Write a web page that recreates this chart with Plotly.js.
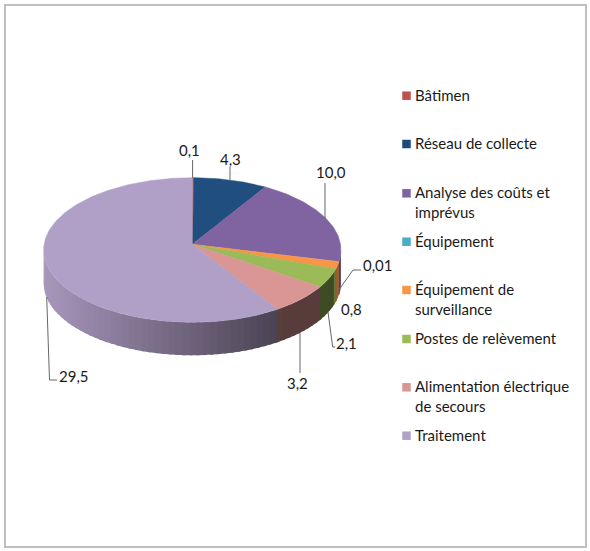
<!DOCTYPE html>
<html>
<head>
<meta charset="utf-8">
<script src="https://cdn.plot.ly/plotly-3.0.1.min.js"></script>
<style>html,body{margin:0;padding:0;background:#fff}</style>
</head>
<body>
<div id="chart" style="width:590px;height:551px"></div>
<script>
const categories = ["Bâtimen","Réseau de collecte","Analyse des coûts et<br>imprévus","Équipement","Équipement de<br>surveillance","Postes de relèvement","Alimentation électrique<br>de secours","Traitement"];
const values = [0.1,4.3,10.0,0.01,0.8,2.1,3.2,29.5];
const dataLabels = ["0,1","4,3","10,0","0,01","0,8","2,1","3,2","29,5"];
const colors = ["#c0504d","#1f4e7f","#8064a2","#4bacc6","#f79646","#9bbb59","#d99694","#b09fc6"];
const legendColors = ["#c0504d","#1f497d","#8064a2","#4bacc6","#f79646","#9bbb59","#d99694","#b3a2c7"];

// Projection of the tilted disc, in page pixels
const CX=192.3, CY=244.3, A=148.2, B=71.85, P=0.0788, DEPTH=33;
function proj(deg, dy){
  const t=deg*Math.PI/180, X=Math.sin(t), Y=Math.cos(t), w=1+P*Y;
  return [CX+A*X/w, CY-B*Y/w+(dy||0)];
}
function hex(c){return [1,3,5].map(i=>parseInt(c.substr(i,2),16));}
function shade(c,x){
  let f=Math.max(0.40,Math.min(0.95,0.95-(x-43)*0.00226));
  if(x>333) f=0.62;
  const h=hex(c);
  return `rgb(${h.map(v=>Math.round(v*f)).join(",")})`;
}
const total=values.reduce((a,b)=>a+b,0);
const edges=[0]; values.forEach(v=>edges.push(edges[edges.length-1]+v/total*360));
const traces=[];
const SIDE_FROM=94, SIDE_TO=266, STEP=2.5;

// side wall, strip by strip, drawn from the left end so each band overlaps the next without seams
for(let i=values.length-1;i>=0;i--){
  const a0=Math.max(edges[i],SIDE_FROM), a1=Math.min(edges[i+1],SIDE_TO);
  if(a1<=a0) continue;
  for(let a=a1;a>a0;a-=STEP){
    const hi=a, lo=Math.max(a-STEP,a0), far=Math.max(lo-1,SIDE_FROM);
    const mid=proj((hi+lo)/2)[0];
    const col=shade(colors[i],mid);
    const p=[proj(hi),proj(far),proj(far,DEPTH),proj(hi,DEPTH),proj(hi)];
    traces.push({type:"scatter",mode:"lines",x:p.map(q=>q[0]),y:p.map(q=>q[1]),fill:"toself",fillcolor:col,
      line:{color:col,width:0},hoverinfo:"skip",showlegend:false});
  }
}
// top face
values.forEach((v,i)=>{
  const pts=[[CX,CY]];
  const n=Math.max(1,Math.ceil((edges[i+1]-edges[i])));
  for(let k=0;k<=n;k++) pts.push(proj(edges[i]+(edges[i+1]-edges[i])*k/n));
  pts.push([CX,CY]);
  traces.push({type:"scatter",mode:"lines",x:pts.map(q=>q[0]),y:pts.map(q=>q[1]),fill:"toself",fillcolor:colors[i],
    line:{color:colors[i],width:v<0.05?0:0.5},name:categories[i],hoverinfo:"name",showlegend:false});
});
// leader lines
const leaders=[
  [[192.6,160],[192.6,178]],
  [[230,167],[230,181]],
  [[325,183],[325,219]],
  [[336.7,293],[353,270],[361,270]],
  [[328,312],[332.7,347],[335,347]],
  [[300,333],[300,373]],
  [[46.7,297],[49.5,380],[57,380]]
];
leaders.forEach(l=>traces.push({type:"scatter",mode:"lines",x:l.map(q=>q[0]),y:l.map(q=>q[1]),
  line:{color:"#666666",width:1},hoverinfo:"skip",showlegend:false}));

// legend swatches
const legendY=[95.7,144,193.3,241.7,290,339,387.3,435.7];
traces.push({type:"scatter",mode:"markers",x:legendY.map(()=>406.5),y:legendY,
  marker:{symbol:"square",size:8.5,color:legendColors,line:{width:0}},hoverinfo:"skip",showlegend:false});

const FONT="Lato, Carlito, Calibri, sans-serif";
const annotations=[];
categories.forEach((c,i)=>annotations.push({x:414,y:legendY[i]-11,xref:"x",yref:"y",xanchor:"left",yanchor:"top",align:"left",
  text:c,showarrow:false,borderpad:0,font:{family:FONT,size:15,color:"#1a1a1a"}}));
const labelPos=[[189.5,150,"center"],[230.5,159,"center"],[331,172,"center"],[362,265,"left"],[351,309,"center"],[335,343,"left"],[297,383,"center"],[58,376,"left"]];
dataLabels.forEach((t,i)=>annotations.push({x:labelPos[i][0],y:labelPos[i][1],xref:"x",yref:"y",xanchor:labelPos[i][2],yanchor:"middle",
  text:t,showarrow:false,borderpad:0,font:{family:FONT,size:15,color:"#1a1a1a"}}));

const layout={
  width:590,height:551,margin:{l:0,r:0,t:0,b:0},paper_bgcolor:"#fff",plot_bgcolor:"#fff",
  xaxis:{range:[0,590],visible:false,fixedrange:true},
  yaxis:{range:[551,0],visible:false,fixedrange:true},
  showlegend:false,annotations,
  shapes:[{type:"rect",xref:"x",yref:"y",x0:5,y0:5,x1:586,y1:547,line:{color:"#bfbfbf",width:2},fillcolor:"rgba(0,0,0,0)"}]
};
Plotly.newPlot("chart",traces,layout,{displayModeBar:false,staticPlot:true});
</script>
</body>
</html>
